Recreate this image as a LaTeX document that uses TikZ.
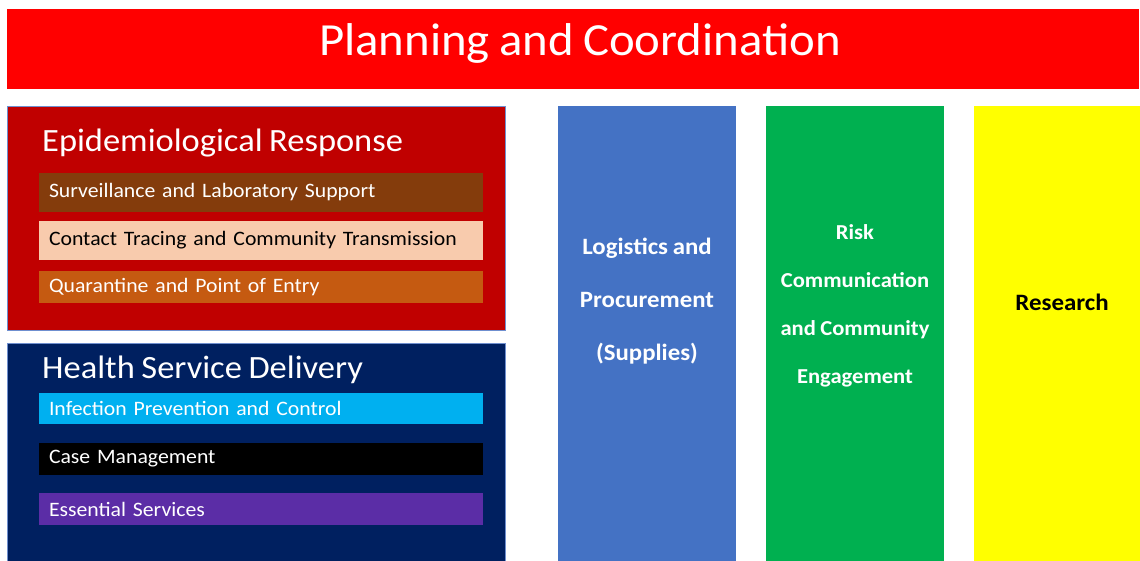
\documentclass[tikz,border=0pt]{standalone}
\usepackage{fontspec}
\setmainfont[FakeStretch=1.06,WordSpace=0.85]{Carlito}
\definecolor{pcred}{HTML}{FF0000}
\definecolor{epired}{HTML}{C00000}
\definecolor{survbrown}{HTML}{843C0C}
\definecolor{contactpeach}{HTML}{F8CBAD}
\definecolor{quarorange}{HTML}{C55A11}
\definecolor{hsnavy}{HTML}{002060}
\definecolor{ipcblue}{HTML}{00B0F0}
\definecolor{esspurple}{HTML}{5B2DA6}
\definecolor{logblue}{HTML}{4472C4}
\definecolor{riskgreen}{HTML}{00B050}
\definecolor{resyellow}{HTML}{FFFF00}
\definecolor{edgeblue}{HTML}{6F8FCF}
\tikzset{
  panel/.style={rectangle, anchor=north west, inner sep=0pt, outer sep=0pt},
  group/.style={panel, draw=edgeblue, line width=0.8pt},
  grouptitle/.style={anchor=base west, inner sep=0pt, text=white, font=\fontsize{32.5}{36}\selectfont},
  task/.style={rectangle, anchor=north west, outer sep=0pt, inner ysep=0pt, inner xsep=10pt,
    text width=424pt, minimum height=#1, align=left, font=\fontsize{20.5}{22}\selectfont},
  pillar/.style={panel},
  pillartext/.style={align=center, inner sep=0pt, font=\bfseries\fontsize{21.3}{#1}\selectfont}
}
\begin{document}
\begin{tikzpicture}[x=1pt,y=-1pt]
\useasboundingbox (0,0) rectangle (1140,561);
\fill[white] (0,0) rectangle (1140,561);

% Top banner
\node[panel, fill=pcred, minimum width=1132pt, minimum height=80pt] (banner) at (7,9) {};
\node[anchor=base, inner sep=0pt, text=white, font=\fontsize{46}{50}\selectfont] (bannertitle) at (580,56) {Planning and Coordination};

% Epidemiological response group
\node[group, fill=epired, minimum width=498pt, minimum height=224pt] (epi) at (7,106) {};
\node[grouptitle] (epititle) at (42,151.5) {Epidemiological Response};
\node[task=39pt, fill=survbrown, text=white] (surv) at (39,173) {\raisebox{1.5pt}{Surveillance and Laboratory Support}};
\node[task=39pt, fill=contactpeach, text=black] (contact) at (39,221) {\raisebox{1.5pt}{Contact Tracing and Community Transmission}};
\node[task=32pt, fill=quarorange, text=white] (quar) at (39,271) {Quarantine and Point of Entry};

% Health service delivery group
\node[group, fill=hsnavy, minimum width=498pt, minimum height=225pt] (hsd) at (7,343) {};
\node[grouptitle] (hsdtitle) at (42,378) {Health Service Delivery};
\node[task=31pt, fill=ipcblue, text=white] (ipc) at (39,393) {Infection Prevention and Control};
\node[task=32pt, fill=black, text=white] (case) at (39,443) {Case Management};
\node[task=32pt, fill=esspurple, text=white] (ess) at (39,493) {Essential Services};

% Pillar columns
\node[pillar, fill=logblue, minimum width=178pt, minimum height=460pt] (logistics) at (558,106) {};
\node[align=center, inner sep=0pt, text=white, font=\bfseries\fontsize{23.4}{53}\selectfont] (logtext) at (647,301.5) {Logistics and\\Procurement\\(Supplies)};

\node[pillar, fill=riskgreen, minimum width=178pt, minimum height=460pt] (risk) at (766,106) {};
\node[pillartext=48pt, text=white] (risktext) at (855,306) {Risk\\Communication\\and Community\\Engagement};

\node[pillar, fill=resyellow, minimum width=180pt, minimum height=460pt] (research) at (974,106) {};
\node[align=center, inner sep=0pt, text=black, font=\bfseries\fontsize{23.5}{26}\selectfont] (restext) at (1062,302) {Research};
\end{tikzpicture}
\end{document}
